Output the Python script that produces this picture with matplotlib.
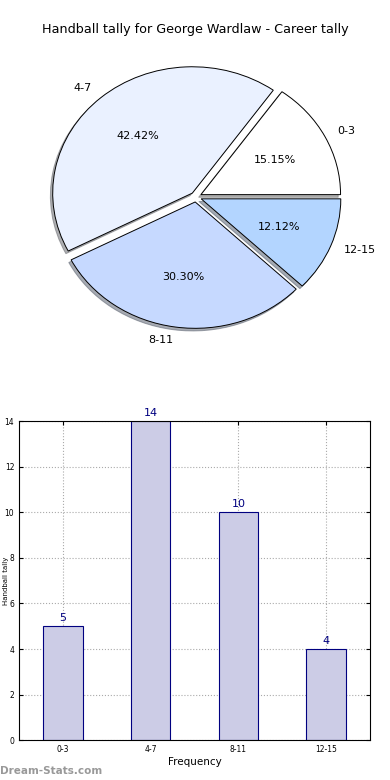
import numpy as np
import matplotlib.pyplot as plt

labels = ['0-3', '4-7', '8-11', '12-15']
counts = [5, 14, 10, 4]
pie_colors = ['#FFFFFF', '#EAF1FF', '#C6D9FF', '#B3D5FF']
title = 'Handball tally for George Wardlaw - Career tally'

fig = plt.figure(figsize=(3.9, 7.8), dpi=100)

# pie
ax1 = fig.add_axes([0.055, 0.545, 0.895, 0.405])
wedges, texts, autotexts = ax1.pie(counts, labels=labels, colors=pie_colors,
                                   explode=[0.04] * 4,
                                   shadow={'ox': -0.012, 'oy': -0.015, 'shade': 0.6},
                                   autopct='%.2f%%', labeldistance=1.1,
                                   wedgeprops={'edgecolor': 'black', 'linewidth': 0.7})
for t in texts + autotexts:
    t.set_fontsize(8)
ax1.set_aspect('auto')
fig.text(0.5, 0.962, title, ha='center', va='center', fontsize=9.2)

# bars
ax2 = fig.add_axes([0.049, 0.051, 0.9, 0.409])
x = np.arange(len(labels))
ax2.bar(x, counts, width=0.45, color='#CCCCE6', edgecolor='navy', linewidth=0.8, zorder=2)
for xi, c in zip(x, counts):
    ax2.text(xi, c + 0.15, str(c), ha='center', va='bottom', color='navy', fontsize=8)
ax2.set_xlim(-0.5, 3.5)
ax2.set_ylim(0, 14)
ax2.set_xticks(x)
ax2.set_xticklabels(labels)
ax2.set_yticks(range(0, 15, 2))
ax2.tick_params(labelsize=5.5, direction='in', top=True, right=True, length=3)
ax2.grid(True, linestyle=':', color='#AAAAAA', linewidth=0.8, zorder=0)
ax2.set_axisbelow(True)
ax2.set_xlabel('Frequency', fontsize=7.5, labelpad=2)
ax2.set_ylabel('Handball tally', fontsize=5)
ax2.yaxis.set_label_coords(-0.029, 0.5)
for s in ax2.spines.values():
    s.set_linewidth(0.8)

fig.text(0.0, 0.012, 'Dream-Stats.com', color='#999999', fontsize=7.5,
         fontweight='bold', ha='left', va='center')

fig.savefig('out.png', dpi=100)
